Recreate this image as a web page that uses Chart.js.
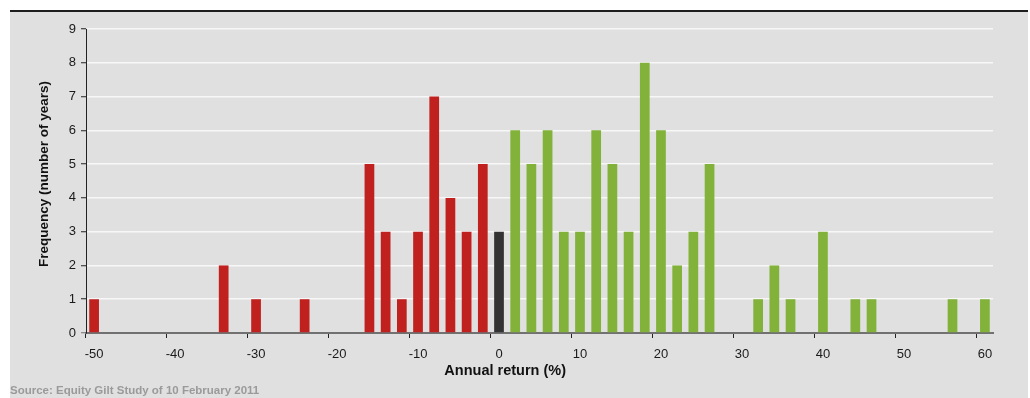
<!DOCTYPE html>
<html>
<head>
<meta charset="utf-8">
<script src="https://cdn.jsdelivr.net/npm/chart.js@4/dist/chart.umd.min.js"></script>
<style>
  html, body { margin: 0; padding: 0; background: #ffffff; }
  #wrap { position: relative; width: 1030px; height: 398px; overflow: hidden; }
  #panel { position: absolute; left: 10px; top: 12px; width: 1018px; height: 386px; background: #e0e0e0; }
  #rule { position: absolute; left: 10px; top: 10px; width: 1018px; height: 2px; background: #1e1e1e; }
  #source { position: absolute; left: 10px; top: 384px; font: bold 11.5px "Liberation Sans", Arial, sans-serif; color: #9a9a9a; white-space: nowrap; }
  canvas { position: absolute; left: 0; top: 0; }
</style>
</head>
<body>
<div id="wrap">
  <div id="panel"></div>
  <div id="rule"></div>
  <canvas id="chart" width="1030" height="398"></canvas>
  <div id="source">Source: Equity Gilt Study of 10 February 2011</div>
</div>
<script>
// Annual return bins (%), 2-point wide
const returnBins = [-50, -48, -46, -44, -42, -40, -38, -36, -34, -32,
                    -30, -28, -26, -24, -22, -20, -18, -16, -14, -12,
                    -10, -8, -6, -4, -2, 0, 2, 4, 6, 8,
                    10, 12, 14, 16, 18, 20, 22, 24, 26, 28,
                    30, 32, 34, 36, 38, 40, 42, 44, 46, 48,
                    50, 52, 54, 56, 58, 60];

// Number of years falling into each bin
const yearCounts = [1, 0, 0, 0, 0, 0, 0, 0, 2, 0,
                    1, 0, 0, 1, 0, 0, 0, 5, 3, 1,
                    3, 7, 4, 3, 5, 3, 6, 5, 6, 3,
                    3, 6, 5, 3, 8, 6, 2, 3, 5, 0,
                    0, 1, 2, 1, 0, 3, 0, 1, 1, 0,
                    0, 0, 0, 1, 0, 1];

// Labelled bins on the x axis
const xTickLabels = [-50, -40, -30, -20, -10, 0, 10, 20, 30, 40, 50, 60];
const yTickValues = [0, 1, 2, 3, 4, 5, 6, 7, 8, 9];

const xTitle = 'Annual return (%)';
const yTitle = 'Frequency (number of years)';

const NEG = '#c0201e', ZERO = '#333333', POS = '#82b23a';
const FONT = '"Liberation Sans", Arial, sans-serif';

const axisTitles = {
  id: 'axisTitles',
  afterDraw(chart) {
    const { ctx, chartArea } = chart;
    ctx.save();
    ctx.fillStyle = '#111111';
    ctx.textBaseline = 'alphabetic';
    ctx.font = 'bold 14.5px ' + FONT;
    ctx.textAlign = 'right';
    ctx.fillText(xTitle, 566, 375);
    ctx.font = 'bold 13.5px ' + FONT;
    ctx.textAlign = 'center';
    ctx.translate(48, (chartArea.top + chartArea.bottom) / 2 - 7);
    ctx.rotate(-Math.PI / 2);
    ctx.fillText(yTitle, 0, 0);
    ctx.restore();
  }
};

new Chart(document.getElementById('chart'), {
  type: 'bar',
  data: {
    labels: returnBins,
    datasets: [{
      data: yearCounts,
      backgroundColor: returnBins.map(v => v < 0 ? NEG : (v === 0 ? ZERO : POS)),
      borderWidth: 0,
      barPercentage: 0.6,
      categoryPercentage: 1.0
    }]
  },
  options: {
    responsive: false,
    devicePixelRatio: 1,
    animation: false,
    layout: { padding: { left: 0, top: 29, right: 37, bottom: 0 } },
    plugins: { legend: { display: false }, tooltip: { enabled: false }, title: { display: false } },
    scales: {
      x: {
        type: 'category',
        offset: true,
        grid: {
          offset: true,
          drawOnChartArea: false,
          drawTicks: true,
          tickLength: 5,
          tickWidth: 1,
          tickColor: c => (c.index % 5 === 0 ? '#222222' : 'rgba(0,0,0,0)')
        },
        border: { display: true, color: '#717171', width: 2 },
        ticks: {
          autoSkip: false,
          maxRotation: 0,
          minRotation: 0,
          padding: 9,
          color: '#1a1a1a',
          font: { family: FONT, size: 13 },
          callback: (val, i) => (xTickLabels.includes(returnBins[i]) ? String(returnBins[i]) : '')
        },
        afterFit: s => { s.height = 65; }
      },
      y: {
        min: 0,
        max: 9,
        afterBuildTicks: s => { s.ticks = yTickValues.map(v => ({ value: v })); },
        grid: {
          color: c => (c.tick && c.tick.value === 0 ? 'rgba(0,0,0,0)' : '#f7f7f7'),
          lineWidth: 1.5,
          drawTicks: true,
          tickLength: 5,
          tickColor: c => (c.tick && c.tick.value === 0 ? '#717171' : '#222222'),
          tickWidth: 1
        },
        border: { display: true, color: '#222222', width: 1 },
        ticks: {
          padding: 5,
          color: '#1a1a1a',
          font: { family: FONT, size: 13 }
        },
        afterFit: s => { s.width = 86; }
      }
    }
  },
  plugins: [axisTitles]
});
</script>
</body>
</html>
